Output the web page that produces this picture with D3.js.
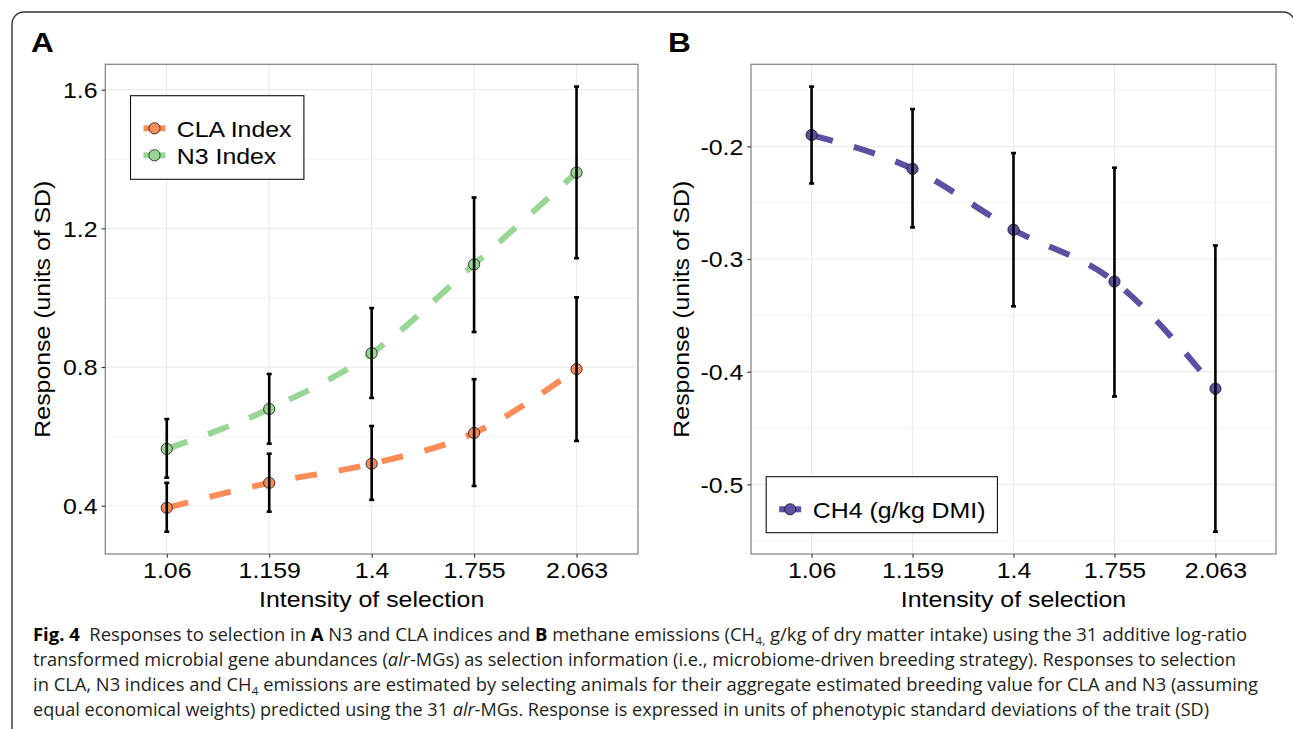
<!DOCTYPE html>
<html><head><meta charset="utf-8">
<script src="https://cdn.jsdelivr.net/npm/d3@7"></script>
<style>body{margin:0;background:#fff}svg{display:block}</style>
</head><body>
<svg id="c" width="1293" height="729"></svg>
<script>
// ---------- data ----------
const categories = ["1.06", "1.159", "1.4", "1.755", "2.063"];
const claMean  = [0.394, 0.466, 0.521, 0.610, 0.794];
const claLower = [0.325, 0.383, 0.417, 0.457, 0.587];
const claUpper = [0.466, 0.550, 0.630, 0.765, 1.001];
const n3Mean   = [0.564, 0.679, 0.840, 1.096, 1.361];
const n3Lower  = [0.481, 0.579, 0.711, 0.901, 1.114];
const n3Upper  = [0.650, 0.780, 0.970, 1.289, 1.609];
const ch4Mean  = [-0.190, -0.220, -0.274, -0.320, -0.415];
const ch4Lower = [-0.233, -0.272, -0.342, -0.422, -0.542];
const ch4Upper = [-0.147, -0.167, -0.206, -0.219, -0.288];
const ticksA = [0.4, 0.8, 1.2, 1.6];
const minorA = [0.6, 1.0, 1.4];
const ticksB = [-0.5, -0.4, -0.3, -0.2];
const minorB = [-0.55, -0.45, -0.35, -0.25, -0.15];
const seriesNamesA = ["CLA Index", "N3 Index"];
const seriesNamesB = ["CH4 (g/kg DMI)"];
const xTitle = "Intensity of selection";
const yTitle = "Response (units of SD)";
const captionLines = [
  [["Fig. 4", "b"], ["  Responses to selection in "], ["A", "b"], [" N3 and CLA indices and "], ["B", "b"], [" methane emissions (CH"], ["4,", "sub"], [" g/kg of dry matter intake) using the 31 additive log-ratio"]],
  [["transformed microbial gene abundances ("], ["alr", "i"], ["-MGs) as selection information (i.e., microbiome-driven breeding strategy). Responses to selection"]],
  [["in CLA, N3 indices and CH"], ["4", "sub"], [" emissions are estimated by selecting animals for their aggregate estimated breeding value for CLA and N3 (assuming"]],
  [["equal economical weights) predicted using the 31 "], ["alr", "i"], ["-MGs. Response is expressed in units of phenotypic standard deviations of the trait (SD)"]]
];
const captionEnds = [1247, 1236, 1258, 1209];

// ---------- styling ----------
const COL_CLA = "#FC8D59", COL_N3 = "#99D594", COL_CH4 = "#5E4FA2";
const FONT = "'Liberation Sans', Arial, sans-serif";
const FS = 22;
const STRETCH = 1.13;

const svg = d3.select("#c");

// outer rounded frame
svg.append("path")
  .attr("d", "M12,735 V24 A12,12 0 0 1 24,12 H1283 A12,12 0 0 1 1295,24")
  .attr("fill", "none").attr("stroke", "#333").attr("stroke-width", 1.4);

function panel(opts) {
  const {L, R, T, B, series, ticks, minor, letter, letterX, yTitleX, legend} = opts;
  const g = svg.append("g");
  const x = d3.scalePoint().domain(categories).range([L, R]).padding(0.6);
  const allVals = series.flatMap(s => s.lower.concat(s.upper));
  const [mn, mx] = d3.extent(allVals);
  const pad = (mx - mn) * 0.05;
  const y = d3.scaleLinear().domain([mn - pad, mx + pad]).range([B, T]);

  g.append("rect").attr("x", L).attr("y", T).attr("width", R - L).attr("height", B - T).attr("fill", "#fff");
  g.selectAll(".mg").data(minor).join("line")
    .attr("x1", L).attr("x2", R).attr("y1", d => y(d)).attr("y2", d => y(d))
    .attr("stroke", "#EBEBEB").attr("stroke-width", 0.6);
  g.selectAll(".Mg").data(ticks).join("line")
    .attr("x1", L).attr("x2", R).attr("y1", d => y(d)).attr("y2", d => y(d))
    .attr("stroke", "#EBEBEB").attr("stroke-width", 1.2);
  g.selectAll(".Vg").data(categories).join("line")
    .attr("x1", d => x(d)).attr("x2", d => x(d)).attr("y1", T).attr("y2", B)
    .attr("stroke", "#EBEBEB").attr("stroke-width", 1.2);

  const line = d3.line().x((d, i) => x(categories[i])).y(d => y(d)).curve(d3.curveMonotoneX);
  series.forEach(s => {
    g.append("path").attr("d", line(s.mean)).attr("fill", "none")
      .attr("stroke", s.color).attr("stroke-width", 6).attr("stroke-dasharray", "22 22");
  });
  series.forEach(s => {
    g.selectAll(null).data(s.mean).join("circle")
      .attr("cx", (d, i) => x(categories[i])).attr("cy", d => y(d)).attr("r", 5.6)
      .attr("fill", s.color).attr("stroke", "#111").attr("stroke-width", 0.8);
  });
  series.forEach(s => {
    const eg = g.append("g").attr("stroke", "#000").attr("stroke-width", 2.6);
    categories.forEach((c, i) => {
      const cx = x(c);
      eg.append("line").attr("x1", cx).attr("x2", cx).attr("y1", y(s.lower[i])).attr("y2", y(s.upper[i]));
      eg.append("line").attr("x1", cx - 2.5).attr("x2", cx + 2.5).attr("y1", y(s.lower[i])).attr("y2", y(s.lower[i]));
      eg.append("line").attr("x1", cx - 2.5).attr("x2", cx + 2.5).attr("y1", y(s.upper[i])).attr("y2", y(s.upper[i]));
    });
  });

  g.append("rect").attr("x", L).attr("y", T).attr("width", R - L).attr("height", B - T)
    .attr("fill", "none").attr("stroke", "#8a8a8a").attr("stroke-width", 1.3);

  const ax = g.append("g").attr("transform", `translate(0,${B})`)
    .call(d3.axisBottom(x).tickSize(3.7).tickPadding(5));
  const ay = g.append("g").attr("transform", `translate(${L},0)`)
    .call(d3.axisLeft(y).tickValues(ticks).tickSize(3.7).tickPadding(4).tickFormat(d => d.toFixed(1)));
  [ax, ay].forEach(a => {
    a.select(".domain").remove();
    a.selectAll(".tick line").attr("stroke", "#333").attr("stroke-width", 1.1);
    a.selectAll(".tick text").attr("class", "sx").attr("fill", "#000")
      .attr("font-family", FONT).attr("font-size", FS);
  });
  ay.selectAll(".tick text").attr("dy", "0.36em");

  g.append("text").attr("class", "sx").attr("x", (L + R) / 2).attr("y", 607)
    .attr("text-anchor", "middle").attr("font-family", FONT).attr("font-size", FS).text(xTitle);
  g.append("text").attr("class", "sx")
    .attr("transform", `translate(${yTitleX},${(T + B) / 2}) rotate(-90)`)
    .attr("text-anchor", "middle").attr("font-family", FONT).attr("font-size", FS).text(yTitle);
  g.append("text").attr("class", "sx").attr("x", letterX).attr("y", 52)
    .attr("font-family", FONT).attr("font-size", 28).attr("font-weight", "bold").text(letter);

  const lg = g.append("g");
  lg.append("rect").attr("x", legend.x).attr("y", legend.y).attr("width", legend.w).attr("height", legend.h)
    .attr("fill", "#fff").attr("stroke", "#111").attr("stroke-width", 1.1);
  series.forEach((s, i) => {
    const cy = legend.y + legend.firstY + i * 27;
    const kx = legend.x + legend.keyX;
    lg.append("line").attr("x1", kx - 11).attr("x2", kx + 11).attr("y1", cy).attr("y2", cy)
      .attr("stroke", s.color).attr("stroke-width", 6);
    lg.append("circle").attr("cx", kx).attr("cy", cy).attr("r", 5.6)
      .attr("fill", s.color).attr("stroke", "#111").attr("stroke-width", 0.8);
    lg.append("text").attr("class", "sx").attr("x", legend.x + legend.textX).attr("y", cy + 8.5)
      .attr("font-family", FONT).attr("font-size", FS).text(s.name);
  });
}

panel({
  L: 105.3, R: 638, T: 64.3, B: 554,
  series: [
    {name: seriesNamesA[0], color: COL_CLA, mean: claMean, lower: claLower, upper: claUpper},
    {name: seriesNamesA[1], color: COL_N3, mean: n3Mean, lower: n3Lower, upper: n3Upper}
  ],
  ticks: ticksA, minor: minorA, letter: "A", letterX: 31, yTitleX: 50,
  legend: {x: 130.5, y: 95.7, w: 173.4, h: 83.6, keyX: 24, firstY: 32.6, textX: 46.3}
});
panel({
  L: 751, R: 1276, T: 64.3, B: 554,
  series: [
    {name: seriesNamesB[0], color: COL_CH4, mean: ch4Mean, lower: ch4Lower, upper: ch4Upper}
  ],
  ticks: ticksB, minor: minorB, letter: "B", letterX: 668, yTitleX: 689,
  legend: {x: 766.2, y: 476.7, w: 231.2, h: 56, keyX: 24, firstY: 32.6, textX: 46.6}
});

svg.selectAll("text.sx").each(function () {
  const len = this.getComputedTextLength();
  d3.select(this).attr("textLength", len * STRETCH).attr("lengthAdjust", "spacingAndGlyphs");
});

// caption
const capX = 33;
captionLines.forEach((segs, li) => {
  const t = svg.append("text").attr("x", capX).attr("y", 641 + li * 25)
    .attr("font-family", "'Open Sans', 'Noto Sans', sans-serif").attr("font-size", 17.5).attr("fill", "#231f20");
  let shifted = false;
  segs.forEach(([txt, st]) => {
    const ts = t.append("tspan").text(txt).attr("xml:space", "preserve");
    if (st === "b") ts.attr("font-weight", "bold").attr("fill", "#000");
    if (st === "i") ts.attr("font-style", "italic");
    if (st === "sub") { ts.attr("font-size", 11.5).attr("dy", 4); shifted = true; }
    else if (shifted) { ts.attr("dy", -4); shifted = false; }
  });
  t.attr("textLength", captionEnds[li] - capX).attr("lengthAdjust", "spacingAndGlyphs");
});
</script>
</body></html>
